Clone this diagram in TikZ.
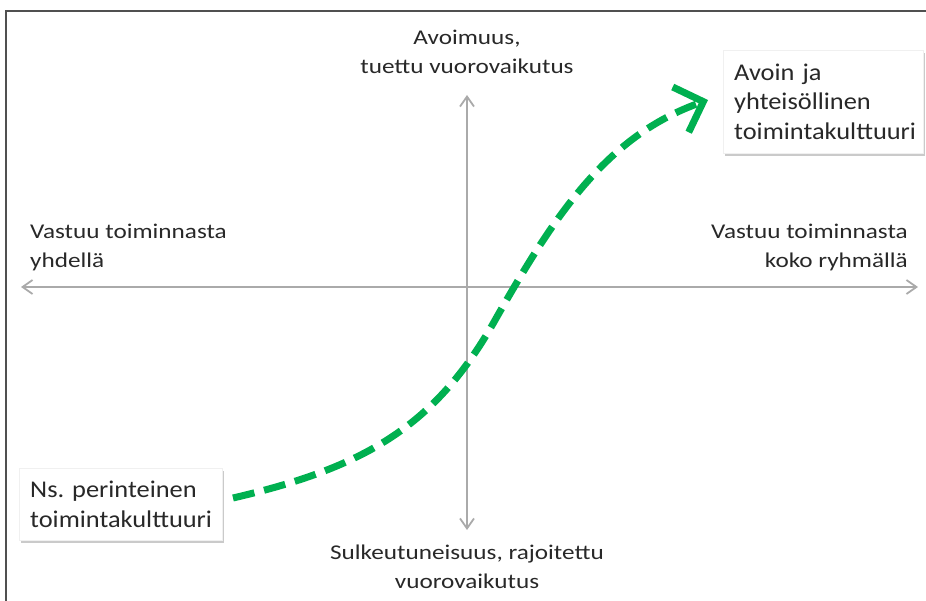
\documentclass[tikz,border=0pt]{standalone}
\usepackage{fontspec}
\setmainfont{Carlito}
\newfontfamily\axisfont[FakeStretch=1.2]{Carlito}
\newfontfamily\boxfont[FakeStretch=1.1]{Carlito}
\usetikzlibrary{arrows.meta,shadows}
\definecolor{axisgray}{RGB}{170,170,170}
\definecolor{txtgray}{RGB}{40,40,40}
\definecolor{framegray}{RGB}{80,80,80}
\definecolor{pathgreen}{RGB}{0,176,80}
\tikzset{
  axis/.style={draw=axisgray, line width=1.8pt, {Straight Barb[length=10pt,width=14pt]}-{Straight Barb[length=10pt,width=14pt]}},
  axislabel/.style={font=\axisfont\fontsize{21}{29}\selectfont, text=txtgray, inner sep=0pt},
  culturebox/.style={draw=black!6, fill=white, font=\boxfont\fontsize{24}{29.5}\selectfont, text=txtgray,
     align=left, inner xsep=11pt, inner ysep=0pt,
     drop shadow={shadow xshift=2pt, shadow yshift=-3pt, opacity=0.35, fill=black!60}},
  greenpath/.style={draw=pathgreen, line width=7pt, dash pattern=on 22pt off 10pt,
     -{Straight Barb[length=24pt,width=48pt,line width=7pt]}}
}
\begin{document}
\frenchspacing
\begin{tikzpicture}[x=1pt,y=-1pt]
\useasboundingbox (0,0) rectangle (926,601);
% frame
\coordinate (ftl) at (6,11);
\coordinate (ftr) at (926,11);
\coordinate (fbl) at (6,601);
\draw[framegray, line width=2pt] (fbl) -- (ftl) -- (ftr);
% axes
\coordinate (hl) at (21,287);
\coordinate (hr) at (918,287);
\coordinate (vt) at (467,95);
\coordinate (vb) at (467,530);
\draw[axis] (hl) -- (hr);
\draw[axis] (vt) -- (vb);
% axis labels
\node[axislabel, align=center] (top) at (467,52) {Avoimuus,\\tuettu vuorovaikutus};
\node[axislabel, align=center] (bottom) at (467,567) {Sulkeutuneisuus, rajoitettu\\vuorovaikutus};
\node[axislabel, align=left, anchor=west] (left) at (30,247) {Vastuu toiminnasta\\yhdellä};
\node[axislabel, align=right, anchor=east] (right) at (908,247) {Vastuu toiminnasta\\koko ryhmällä};
% boxes
\node[culturebox, anchor=north west, text width=178pt, minimum height=103pt] (open) at (723,50)
  {Avoin ja\\yhteisöllinen\\toimintakulttuuri};
\node[culturebox, anchor=north west, text width=181pt, minimum height=72pt] (trad) at (19,468)
  {Ns. perinteinen\\toimintakulttuuri};
% green transition
\coordinate (cs) at (233,498);
\coordinate (cm) at (494,322);
\coordinate (ce) at (708,100);
\draw[greenpath] (cs) .. controls (362,468) and (434,428) .. (cm) .. controls (554,216) and (606,136) .. (ce);
\end{tikzpicture}
\end{document}
